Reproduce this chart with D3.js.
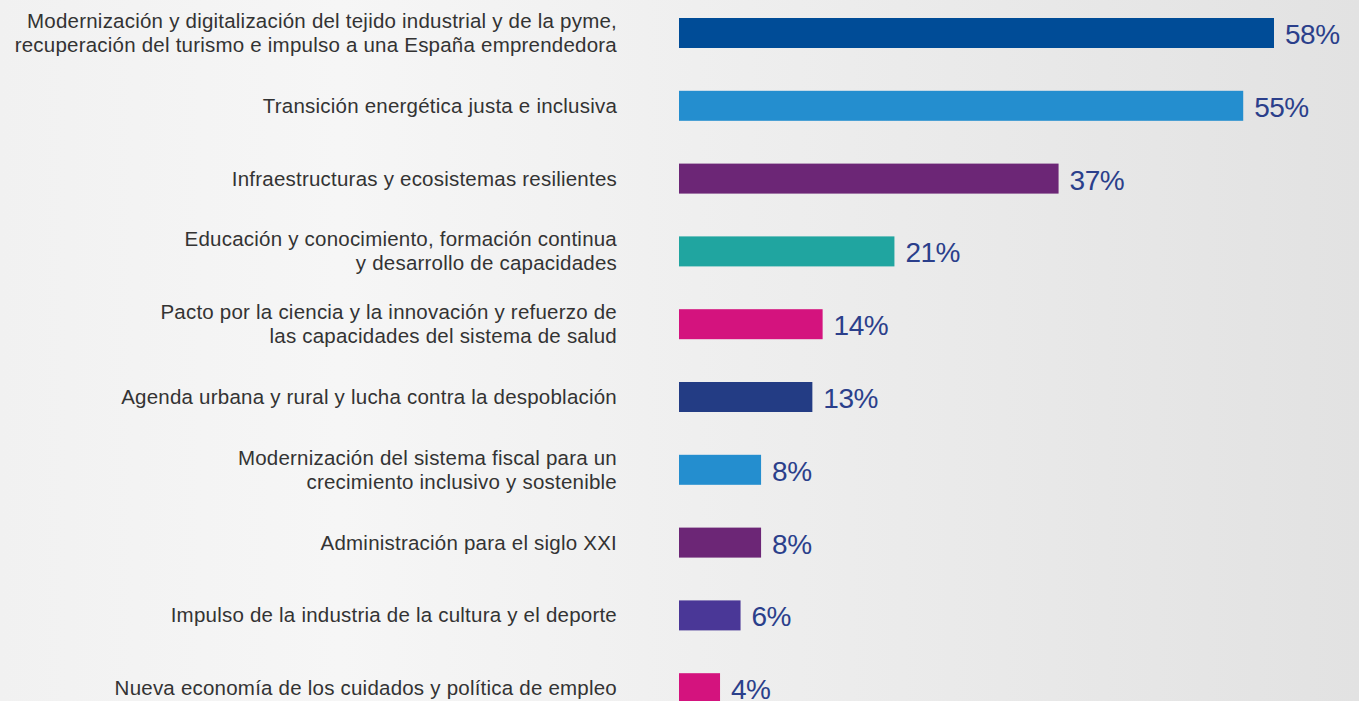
<!DOCTYPE html>
<html>
<head>
<meta charset="utf-8">
<script src="https://cdn.jsdelivr.net/npm/d3@7"></script>
<style>
  html, body { margin: 0; padding: 0; overflow: hidden; }
  svg { display: block; }
</style>
</head>
<body>
<svg id="chart"></svg>
<script>
// categories (line breaks as in the original)
const categories = [
  ['Modernización y digitalización del tejido industrial y de la pyme,', 'recuperación del turismo e impulso a una España emprendedora'],
  ['Transición energética justa e inclusiva'],
  ['Infraestructuras y ecosistemas resilientes'],
  ['Educación y conocimiento, formación continua', 'y desarrollo de capacidades'],
  ['Pacto por la ciencia y la innovación y refuerzo de', 'las capacidades del sistema de salud'],
  ['Agenda urbana y rural y lucha contra la despoblación'],
  ['Modernización del sistema fiscal para un', 'crecimiento inclusivo y sostenible'],
  ['Administración para el siglo XXI'],
  ['Impulso de la industria de la cultura y el deporte'],
  ['Nueva economía de los cuidados y política de empleo']
];
const values = [58, 55, 37, 21, 14, 13, 8, 8, 6, 4];
const valueLabels = ['58%', '55%', '37%', '21%', '14%', '13%', '8%', '8%', '6%', '4%'];
const barColors = ['#004c97', '#248ecf', '#6c2676', '#20a5a0', '#d4137e', '#233c84', '#248ecf', '#6c2676', '#4a3797', '#d4137e'];

const width = 1359;
const height = 701;

const svg = d3.select('#chart').attr('width', width).attr('height', height);

// background gradient
const defs = svg.append('defs');
const grad = defs.append('linearGradient').attr('id', 'bg').attr('x1', '0%').attr('x2', '100%');
grad.append('stop').attr('offset', '0%').attr('stop-color', '#f1f1f1');
grad.append('stop').attr('offset', '25%').attr('stop-color', '#f6f6f6');
grad.append('stop').attr('offset', '100%').attr('stop-color', '#e2e2e2');
svg.append('rect').attr('width', width).attr('height', height).attr('fill', 'url(#bg)');

const data = categories.map((c, i) => ({ key: i, lines: c, value: values[i], label: valueLabels[i], color: barColors[i] }));

const x = d3.scaleLinear()
  .domain([0, 58])
  .range([679, 1274]);

const y = d3.scaleBand()
  .domain(data.map(d => d.key))
  .range([18, 18 + 9 * 72.8 + 30])
  .paddingInner(42.8 / 72.8)
  .paddingOuter(0);

svg.append('g')
  .selectAll('rect')
  .data(data)
  .join('rect')
  .attr('x', x(0))
  .attr('y', d => y(d.key))
  .attr('width', d => x(d.value) - x(0))
  .attr('height', y.bandwidth())
  .attr('fill', d => d.color);

// value labels
svg.append('g')
  .selectAll('text')
  .data(data)
  .join('text')
  .attr('x', d => x(d.value) + 11)
  .attr('y', d => y(d.key) + y.bandwidth() / 2 + 11)
  .attr('fill', '#2b3f8b')
  .style('font-family', '"Liberation Sans", Arial, sans-serif')
  .style('font-size', '28px')
  .style('letter-spacing', '-0.5px')
  .text(d => d.label);

// category labels
const lineH = 24;
const cat = svg.append('g')
  .selectAll('text')
  .data(data)
  .join('text')
  .attr('text-anchor', 'end')
  .attr('fill', '#333333')
  .style('font-family', '"Liberation Sans Narrow", "Arial Narrow", "Liberation Sans", sans-serif')
  .style('font-size', '20.5px')
  .style('letter-spacing', '0.22px')
  .attr('y', d => y(d.key) + y.bandwidth() / 2 + 7 - (d.lines.length - 1) * lineH / 2);

cat.selectAll('tspan')
  .data(d => d.lines)
  .join('tspan')
  .attr('x', 617)
  .attr('dy', (l, i) => i === 0 ? 0 : lineH)
  .text(l => l);
</script>
</body>
</html>
